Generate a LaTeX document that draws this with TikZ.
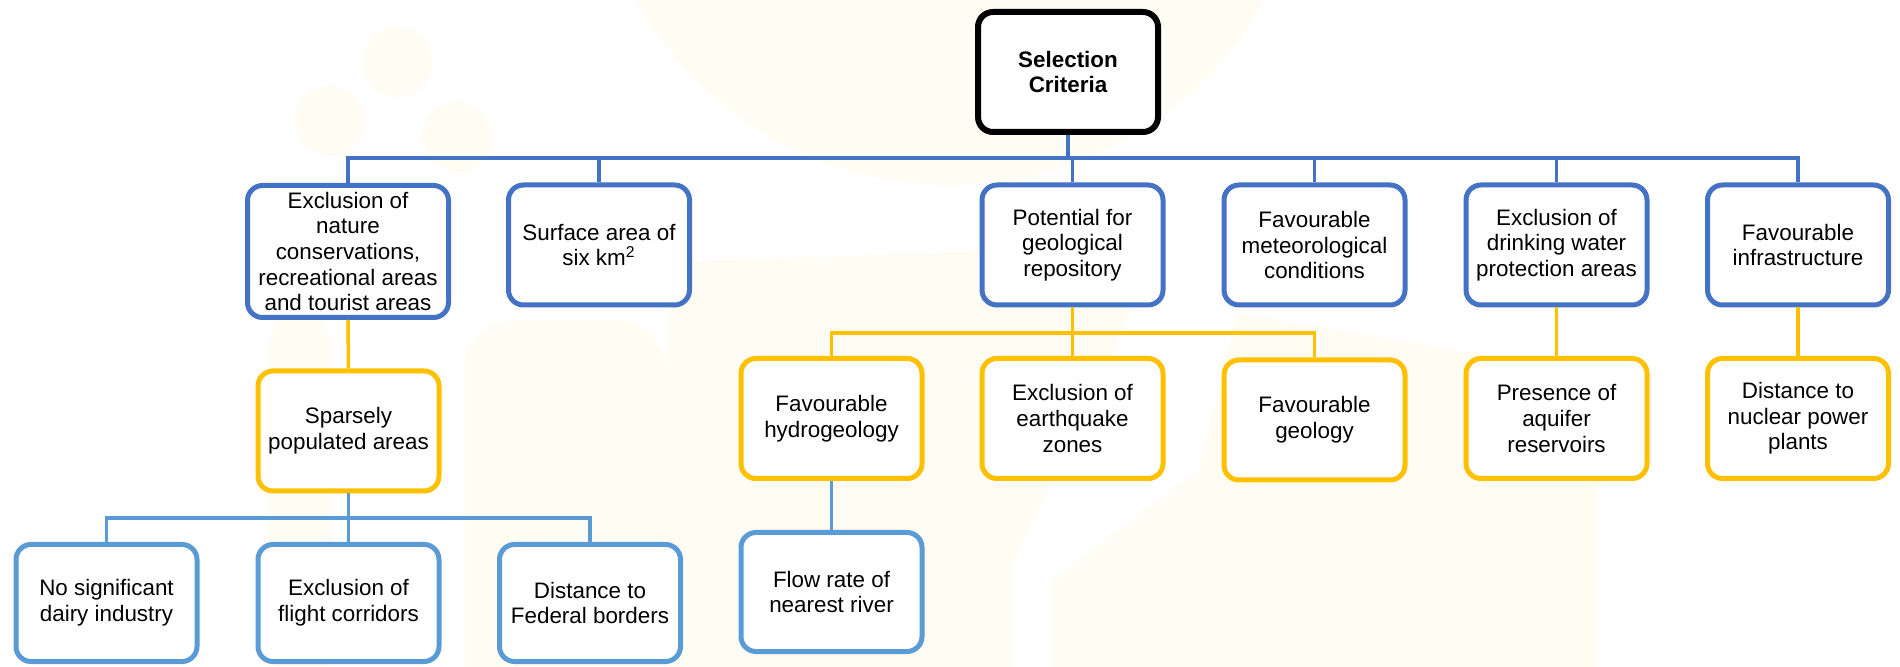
\documentclass[tikz,border=0pt]{standalone}
\usepackage{fontspec}
\setmainfont{Liberation Sans}
\definecolor{topblue}{HTML}{4472C4}
\definecolor{lowblue}{HTML}{5B9BD5}
\definecolor{amber}{HTML}{FFC000}
\definecolor{cream}{RGB}{255,252,243}
\tikzset{
  box/.style={draw, fill=white, rounded corners=7.5pt, line width=2.5pt,
    align=center, inner sep=0pt, minimum width=90.5pt, minimum height=60pt,
    font=\fontsize{11.2}{12.8}\selectfont},
  rootbox/.style={box, draw=black, line width=3pt, minimum width=90pt,
    minimum height=60pt, font=\fontsize{11.2}{12.8}\selectfont\bfseries},
  blubox/.style={box, draw=topblue},
  ambbox/.style={box, draw=amber},
  lowbox/.style={box, draw=lowblue},
  blulink/.style={draw=topblue, line width=1.75pt},
  amblink/.style={draw=amber, line width=1.75pt},
  lowlink/.style={draw=lowblue, line width=1.75pt},
}
\begin{document}
\begin{tikzpicture}[x=0.5pt, y=-0.5pt]
\useasboundingbox (0,0) rectangle (1900,667);
% faint background emblem
\begin{scope}
  \clip (0,0) rectangle (1900,667);
  \fill[cream] (950,-174) circle (359);
  \fill[cream] (398,62) circle (35);
  \fill[cream] (330,121) circle (35);
  \fill[cream] (457,137) circle (35);
  \fill[cream, rounded corners=25pt] (269,300) rectangle (331,720);
  \fill[cream, rounded corners=25pt] (465,320) rectangle (666,720);
  \fill[cream] (666,262) -- (1012,250) -- (1132,310) -- (1012,567) -- (1012,720) -- (666,720) -- cycle;
  \fill[cream] (1053,720) -- (1053,580) -- (1199,470) -- (1237,313) -- (1476,353) -- (1598,400) -- (1598,720) -- cycle;
\end{scope}

% level 0
\node[rootbox] (sc) at (1068,72) {Selection\\Criteria};

% level 1
\node[blubox, minimum width=100.5pt, minimum height=66pt] (excl) at (348,251.5)
  {Exclusion of\\nature\\conservations,\\recreational areas\\and tourist areas};
\node[blubox] (surf) at (599,245) {Surface area of\\six km\textsuperscript{2}};
\node[blubox] (pot) at (1072.5,245) {Potential for\\geological\\repository};
\node[blubox] (met) at (1314.5,245) {Favourable\\meteorological\\conditions};
\node[blubox] (drink) at (1556.5,245) {Exclusion of\\drinking water\\protection areas};
\node[blubox] (infra) at (1798,245) {Favourable\\infrastructure};

% level 2
\node[ambbox] (sparse) at (348.5,431) {Sparsely\\populated areas};
\node[ambbox] (hydro) at (831.5,418.5) {Favourable\\hydrogeology};
\node[ambbox] (quake) at (1072.5,418.5) {Exclusion of\\earthquake\\zones};
\node[ambbox] (geo) at (1314.5,420) {Favourable\\geology};
\node[ambbox] (aquif) at (1556.5,418.5) {Presence of\\aquifer\\reservoirs};
\node[ambbox] (nuc) at (1798,418.5) {Distance to\\nuclear power\\plants};

% level 3
\node[lowbox, minimum height=58.5pt] (dairy) at (106.5,603) {No significant\\dairy industry};
\node[lowbox, minimum height=58.5pt] (flight) at (348.5,603) {Exclusion of\\flight corridors};
\node[lowbox, minimum height=58.5pt] (fed) at (590,603) {Distance to\\Federal borders};
\node[lowbox, minimum height=59.5pt] (flow) at (831.5,592) {Flow rate of\\nearest river};

% heights of the three branch bars
\coordinate (bar1) at (0,158);
\coordinate (bar2) at (0,333);
\coordinate (bar3) at (0,518);

% connectors
\path[blulink] (sc.south) -- (sc.south |- bar1);
\path[blulink] (excl.north) -- (excl.north |- bar1) -- (infra.north |- bar1) -- (infra.north);
\path[blulink] (surf.north) -- (surf.north |- bar1);
\path[blulink] (pot.north) -- (pot.north |- bar1);
\path[blulink] (met.north) -- (met.north |- bar1);
\path[blulink] (drink.north) -- (drink.north |- bar1);

\path[amblink] (excl.south) -- (sparse.north);
\path[amblink] (pot.south) -- (pot.south |- bar2);
\path[amblink] (hydro.north) -- (hydro.north |- bar2) -- (geo.north |- bar2) -- (geo.north);
\path[amblink] (quake.north) -- (quake.north |- bar2);
\path[amblink] (drink.south) -- (aquif.north);
\path[amblink] (infra.south) -- (nuc.north);

\path[lowlink] (sparse.south) -- (sparse.south |- bar3);
\path[lowlink] (dairy.north) -- (dairy.north |- bar3) -- (fed.north |- bar3) -- (fed.north);
\path[lowlink] (flight.north) -- (flight.north |- bar3);
\path[lowlink] (hydro.south) -- (flow.north);
\end{tikzpicture}
\end{document}
